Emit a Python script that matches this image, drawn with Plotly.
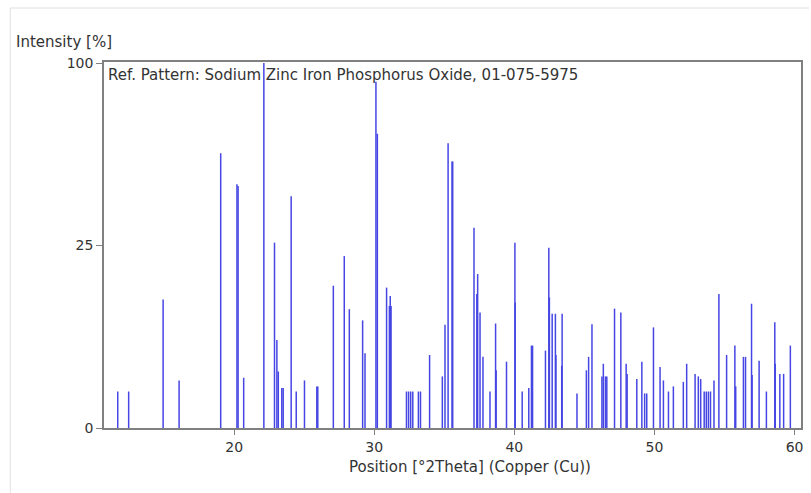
import math
import plotly.graph_objects as go

# Reference pattern stick positions (°2Theta) and relative intensities (%)
positions = [
    11.69, 12.47, 14.93, 16.07, 19.04, 20.20, 20.28, 20.68, 22.12, 22.88,
    23.05, 23.15, 23.40, 23.50, 24.07, 24.43, 25.02, 25.90, 25.97, 27.08,
    27.86, 28.22, 29.17, 29.34, 30.12, 30.22, 30.88, 31.08, 31.14, 31.20,
    32.30, 32.45, 32.60, 32.75, 33.15, 33.30, 33.95, 34.86, 35.05, 35.27,
    35.55, 35.60, 37.12, 37.32, 37.38, 37.55, 37.76, 38.26, 38.66, 38.70,
    39.44, 40.04, 40.06, 40.56, 41.03, 41.22, 41.30, 42.22, 42.46, 42.50,
    42.70, 42.93, 42.97, 43.38, 43.41, 44.47, 45.14, 45.30, 45.54, 46.25,
    46.35, 46.50, 46.60, 47.15, 47.60, 47.98, 48.05, 48.74, 49.10, 49.30,
    49.45, 49.93, 50.40, 50.64, 51.00, 51.35, 52.06, 52.30, 52.90, 53.13,
    53.30, 53.55, 53.70, 53.85, 54.00, 54.25, 54.60, 55.15, 55.74, 55.80,
    56.35, 56.50, 56.93, 56.97, 57.47, 57.99, 58.59, 58.62, 58.95, 59.22,
    59.70,
]
intensities = [
    1.0, 1.0, 12.4, 1.7, 56.7, 44.6, 44.0, 1.9, 100.0, 25.8,
    5.8, 2.4, 1.2, 1.2, 40.3, 1.0, 1.7, 1.3, 1.3, 15.2,
    22.2, 10.6, 8.7, 4.2, 90.0, 65.0, 14.8, 11.2, 13.1, 11.2,
    1.0, 1.0, 1.0, 1.0, 1.0, 1.0, 4.0, 2.0, 8.0, 60.9,
    53.3, 53.3, 30.1, 13.5, 17.8, 10.0, 3.8, 1.0, 8.2, 2.5,
    3.3, 25.8, 11.8, 1.0, 1.2, 5.1, 5.1, 4.5, 24.4, 12.8,
    9.8, 9.8, 4.0, 2.9, 9.8, 0.9, 2.5, 3.8, 8.1, 2.0,
    3.1, 2.0, 2.0, 10.7, 10.0, 3.1, 2.2, 1.8, 3.3, 0.9,
    0.9, 7.6, 2.8, 1.7, 1.0, 1.3, 1.6, 3.1, 2.2, 2.0,
    1.8, 1.0, 1.0, 1.0, 1.0, 1.7, 13.5, 4.0, 5.1, 1.3,
    3.8, 3.8, 11.6, 2.1, 3.4, 1.0, 8.4, 3.1, 2.2, 2.2,
    5.1,
]
y_tick_values = [0, 25, 100]
x_tick_values = [20, 30, 40, 50, 60]

title_text = "Ref. Pattern: Sodium Zinc Iron Phosphorus Oxide, 01-075-5975"
x_title = "Position [°2Theta] (Copper (Cu))"
y_title = "Intensity [%]"

# Square-root intensity scale
xs, ys = [], []
for p, i in zip(positions, intensities):
    xs += [p, p, None]
    ys += [0, math.sqrt(i), None]

fig = go.Figure()
fig.add_trace(go.Scatter(
    x=xs, y=ys, mode="lines",
    line=dict(color="rgb(70,70,228)", width=1.5),
    hoverinfo="skip", showlegend=False,
))

W, H = 811, 493
L, R, T, B = 104, 8, 62, 65
pw, ph = W - L - R, H - T - B

def px(xp):
    return (xp - L) / pw

def py(yp):
    return (H - B - yp) / ph

font = dict(family="DejaVu Sans", size=15, color="#333333")
tfont = dict(family="DejaVu Sans", size=14, color="#333333")

fig.update_layout(
    width=W, height=H,
    margin=dict(l=L, r=R, t=T, b=B),
    paper_bgcolor="white", plot_bgcolor="white",
    font=font,
    xaxis=dict(
        range=[10.71, 60.46], tickvals=x_tick_values,
        ticks="outside", ticklen=5, tickcolor="#808080",
        showline=True, linecolor="#808080", linewidth=1.5, mirror=True,
        showgrid=False, zeroline=False, tickfont=tfont,
    ),
    yaxis=dict(
        range=[0, 10.03],
        tickvals=[math.sqrt(v) for v in y_tick_values],
        ticktext=[str(v) for v in y_tick_values],
        ticks="outside", ticklen=6, tickcolor="#808080",
        showline=True, linecolor="#808080", linewidth=1.5, mirror=True,
        showgrid=False, zeroline=False, tickfont=tfont,
    ),
    annotations=[
        dict(text=title_text, xref="paper", yref="paper", x=px(106), y=py(75),
             xanchor="left", yanchor="middle", showarrow=False, font=font),
        dict(text=x_title, xref="paper", yref="paper", x=px(471), y=py(467),
             xanchor="center", yanchor="middle", showarrow=False, font=font),
        dict(text=y_title, xref="paper", yref="paper", x=px(14), y=py(42),
             xanchor="left", yanchor="middle", showarrow=False, font=font),
    ],
    shapes=[
        dict(type="line", xref="paper", yref="paper", x0=px(10), x1=px(811),
             y0=py(8), y1=py(8), line=dict(color="#e0e0e0", width=1)),
        dict(type="line", xref="paper", yref="paper", x0=px(10), x1=px(10),
             y0=py(8), y1=py(493), line=dict(color="#e0e0e0", width=1)),
    ],
)

fig.write_html("out.html")
